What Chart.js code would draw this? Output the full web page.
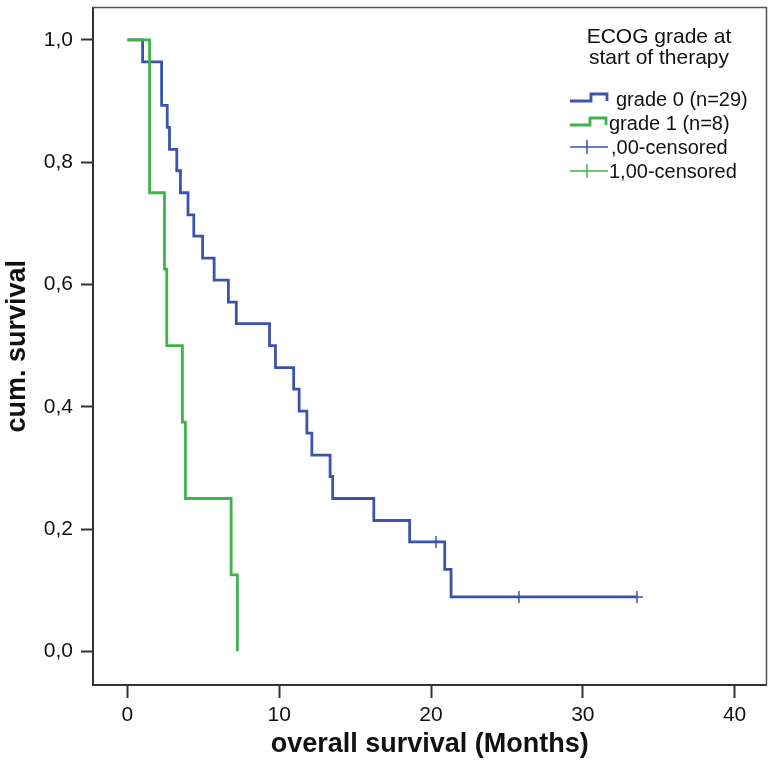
<!DOCTYPE html>
<html>
<head>
<meta charset="utf-8">
<script src="https://cdn.jsdelivr.net/npm/chart.js@4.4.1/dist/chart.umd.min.js"></script>
<style>
  html, body { margin: 0; padding: 0; background: #fff; }
</style>
</head>
<body>
<canvas id="km" width="774" height="766"></canvas>
<script>
const xTicks = [0, 10, 20, 30, 40];
const yTicks = [0, 0.2, 0.4, 0.6, 0.8, 1.0];

// grade 0 (n=29): step times in months and survival after each step
const g0Times = [0, 1.0, 2.25, 2.62, 2.77, 3.25, 3.49, 3.99, 4.37, 4.95, 5.71, 6.65, 7.17, 9.36, 9.75, 10.95, 11.31, 11.82, 12.15, 13.35, 13.52, 16.23, 18.59, 20.9, 21.32, 33.57];
const g0Surv = [1, 0.964, 0.893, 0.857, 0.821, 0.786, 0.75, 0.714, 0.679, 0.643, 0.607, 0.571, 0.536, 0.5, 0.464, 0.429, 0.393, 0.357, 0.321, 0.286, 0.25, 0.214, 0.179, 0.134, 0.089, 0.089];
const g0CensTimes = [20.33, 25.79, 33.57];
const g0CensSurv = [0.179, 0.089, 0.089];

// grade 1 (n=8)
const g1Times = [0, 1.46, 2.44, 2.59, 3.62, 3.82, 6.83, 7.24];
const g1Surv = [1, 0.75, 0.625, 0.5, 0.375, 0.25, 0.125, 0];

const BLUE = '#3a53ad';
const GREEN = '#3cb449';
const AXIS = '#333';
const FONT = '"Liberation Sans", Arial, sans-serif';

const pts = (xs, ys) => xs.map((x, i) => ({ x: x, y: ys[i] }));

// frame on top/right + the legend block in the upper right corner
const kmLegend = {
    id: 'kmLegend',
    afterDraw(chart) {
        const ctx = chart.ctx;
        const a = chart.chartArea;
        ctx.save();
        ctx.strokeStyle = '#555';
        ctx.lineWidth = 1.5;
        ctx.beginPath();
        ctx.moveTo(a.left, a.top); ctx.lineTo(a.right, a.top); ctx.lineTo(a.right, a.bottom);
        ctx.stroke();

        ctx.fillStyle = '#111';
        ctx.textAlign = 'center';
        ctx.textBaseline = 'middle';
        ctx.font = '21px ' + FONT;
        ctx.fillText('ECOG grade at', 659, 37);
        ctx.fillText('start of therapy', 659, 58);

        ctx.lineWidth = 2.8;
        ctx.strokeStyle = BLUE;
        ctx.beginPath();
        ctx.moveTo(570, 101); ctx.lineTo(591, 101); ctx.lineTo(591, 94); ctx.lineTo(607, 94); ctx.lineTo(607, 101);
        ctx.stroke();
        ctx.strokeStyle = GREEN;
        ctx.beginPath();
        ctx.moveTo(570, 125); ctx.lineTo(590, 125); ctx.lineTo(590, 118); ctx.lineTo(606, 118); ctx.lineTo(606, 125);
        ctx.stroke();

        ctx.lineWidth = 1.5;
        [[BLUE, 147], [GREEN, 171]].forEach(([c, y]) => {
            ctx.strokeStyle = c;
            ctx.beginPath();
            ctx.moveTo(570, y); ctx.lineTo(608, y);
            ctx.moveTo(587, y - 7); ctx.lineTo(587, y + 7);
            ctx.stroke();
        });

        ctx.textAlign = 'left';
        ctx.font = '20px ' + FONT;
        ctx.fillText('grade 0 (n=29)', 616, 100);
        ctx.fillText('grade 1 (n=8)', 609, 124);
        ctx.fillText(',00-censored', 611, 148);
        ctx.fillText('1,00-censored', 609, 172);
        ctx.restore();
    }
};

new Chart(document.getElementById('km'), {
    type: 'line',
    data: {
        datasets: [
            { label: 'grade 1 (n=8)', data: pts(g1Times, g1Surv), borderColor: GREEN, borderWidth: 2.8, stepped: 'before', pointRadius: 0, fill: false, order: 0 },
            { label: 'grade 0 (n=29)', data: pts(g0Times, g0Surv), borderColor: BLUE, borderWidth: 2.8, stepped: 'before', pointRadius: 0, fill: false, order: 1 },
            { label: ',00-censored', type: 'scatter', data: pts(g0CensTimes, g0CensSurv), pointStyle: 'cross', pointRadius: 6, borderColor: BLUE, borderWidth: 1.5, order: 2 }
        ]
    },
    options: {
        responsive: false,
        animation: false,
        layout: { padding: { top: 3, right: 3, left: 0, bottom: 0 } },
        plugins: { legend: { display: false }, tooltip: { enabled: false } },
        scales: {
            x: {
                type: 'linear',
                min: -2.27, max: 42.1,
                afterFit: s => { s.height = 81; s.paddingLeft = 0; s.paddingRight = 0; },
                afterBuildTicks: s => { s.ticks = xTicks.map(v => ({ value: v })); },
                border: { color: AXIS, width: 2 },
                grid: { drawOnChartArea: false, drawTicks: true, tickLength: 13, tickWidth: 2, tickColor: AXIS },
                ticks: { color: '#111', font: { family: FONT, size: 21 }, padding: 5, maxRotation: 0, callback: v => String(v) },
                title: { display: true, text: 'overall survival (Months)', color: '#111', font: { family: FONT, size: 27, weight: 'bold' }, padding: { top: 0, bottom: 5 } }
            },
            y: {
                type: 'linear',
                min: -0.055, max: 1.053,
                afterFit: s => { s.width = 93; s.paddingTop = 0; s.paddingBottom = 0; },
                afterBuildTicks: s => { s.ticks = yTicks.map(v => ({ value: v })); },
                border: { color: AXIS, width: 2 },
                grid: { drawOnChartArea: false, drawTicks: true, tickLength: 12, tickWidth: 2, tickColor: AXIS },
                ticks: { color: '#111', font: { family: FONT, size: 21 }, padding: 8, callback: v => v.toFixed(1).replace('.', ',') },
                title: { display: true, text: 'cum. survival', color: '#111', font: { family: FONT, size: 27, weight: 'bold' }, padding: { top: 1, bottom: 0 } }
            }
        }
    },
    plugins: [kmLegend]
});
</script>
</body>
</html>
